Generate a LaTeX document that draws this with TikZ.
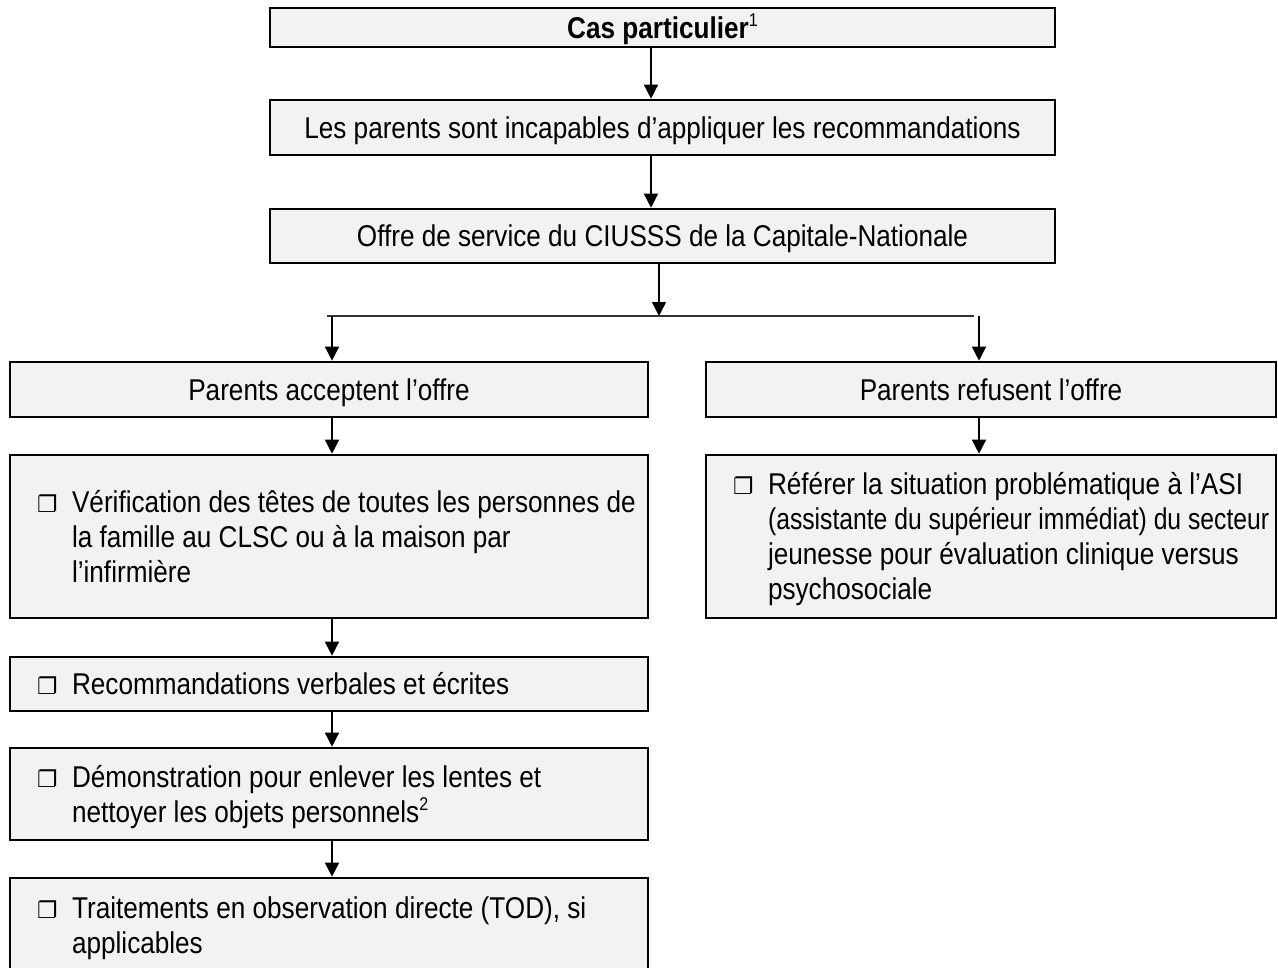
\documentclass[tikz,border=0pt]{standalone}
\usepackage{fontspec}
\setmainfont{Liberation Sans}[FakeStretch=0.87]
\newfontfamily\chkfont{DejaVu Sans}
\usetikzlibrary{arrows.meta}
\newcommand{\tstrut}{\rule[-4.5pt]{0pt}{21.2pt}}
\newcommand{\supnum}[1]{\raisebox{0.75ex}{\fontsize{10.5}{10.5}\selectfont #1}}
\newcommand{\chkitem}[2]{\makebox[#1][l]{\hspace{0.54cm}\makebox[0.7cm][l]{{\chkfont\fontsize{13}{13}\selectfont ❐}}\begin{tabular}[t]{@{}l@{}}\rule{0pt}{18.3pt}#2\end{tabular}}}

\begin{document}
\begin{tikzpicture}[x=0.02cm,y=-0.02cm,
  box/.style={draw,line width=1.5pt,fill=black!5,inner sep=0pt,
    font=\fontsize{17.1}{19.9}\selectfont},
  wide/.style={box,minimum width=15.7cm},
  leftcol/.style={box,minimum width=12.76cm},
  rightcol/.style={box,minimum width=11.4cm},
  arr/.style={line width=0.8pt,-{Triangle[width=0.28cm,length=0.28cm]}}]
 \useasboundingbox (0,0) rectangle (1278,967);
 % top of the chart
 \node[wide,minimum height=0.78cm] (cas) at (662.5,27.5) {\tstrut\textbf{Cas particulier}\supnum{1}};
 \node[wide,minimum height=1.1cm] (incap) at (662.5,127.5) {\tstrut Les parents sont incapables d’appliquer les recommandations};
 \node[wide,minimum height=1.08cm] (offre) at (662.5,236) {\tstrut Offre de service du CIUSSS de la Capitale-Nationale};
 % the two branches
 \node[leftcol,minimum height=1.1cm] (accept) at (329,389.5) {\tstrut Parents acceptent l’offre};
 \node[rightcol,minimum height=1.1cm] (refuse) at (991,389.5) {\tstrut Parents refusent l’offre};
 \node[leftcol,minimum height=3.26cm] (verif) at (329,536.5) {\chkitem{12.76cm}{Vérification des têtes de toutes les personnes de\\la famille au CLSC ou à la maison par\\l’infirmière}};
 \node[rightcol,minimum height=3.26cm] (referer) at (991,536.5) {\chkitem{11.4cm}{Référer la situation problématique à l’ASI\\\scalebox{0.945}[1]{(assistante du supérieur immédiat) du secteur}\\jeunesse pour évaluation clinique versus\\psychosociale}};
 \node[leftcol,minimum height=1.08cm] (recom) at (329,684) {\chkitem{12.76cm}{Recommandations verbales et écrites}};
 \node[leftcol,minimum height=1.84cm] (demo) at (329,794) {\chkitem{12.76cm}{Démonstration pour enlever les lentes et\\nettoyer les objets personnels\supnum{2}}};
 \node[leftcol,minimum height=1.88cm] (traite) at (329,925) {\chkitem{12.76cm}{Traitements en observation directe (TOD), si\\applicables}};
 % connectors
 \coordinate (ax) at (651,0);
 \coordinate (split) at (659,316);
 \coordinate (lsplit) at (327,316);
 \coordinate (rsplit) at (974,316);
 \coordinate (lx) at (332,0);
 \coordinate (rx) at (979,0);
 \draw[arr] (cas.south -| ax) -- (incap.north -| ax);
 \draw[arr] (incap.south -| ax) -- (offre.north -| ax);
 \draw[arr] (offre.south -| split) -- (split);
 \draw[line width=0.6pt,black!80] (lsplit) -- (rsplit);
 \draw[arr] (lsplit -| lx) -- (accept.north -| lx);
 \draw[arr] (rsplit -| rx) -- (refuse.north -| rx);
 \draw[arr] (accept.south -| lx) -- (verif.north -| lx);
 \draw[arr] (refuse.south -| rx) -- (referer.north -| rx);
 \draw[arr] (verif.south -| lx) -- (recom.north -| lx);
 \draw[arr] (recom.south -| lx) -- (demo.north -| lx);
 \draw[arr] (demo.south -| lx) -- (traite.north -| lx);
\end{tikzpicture}
\end{document}
